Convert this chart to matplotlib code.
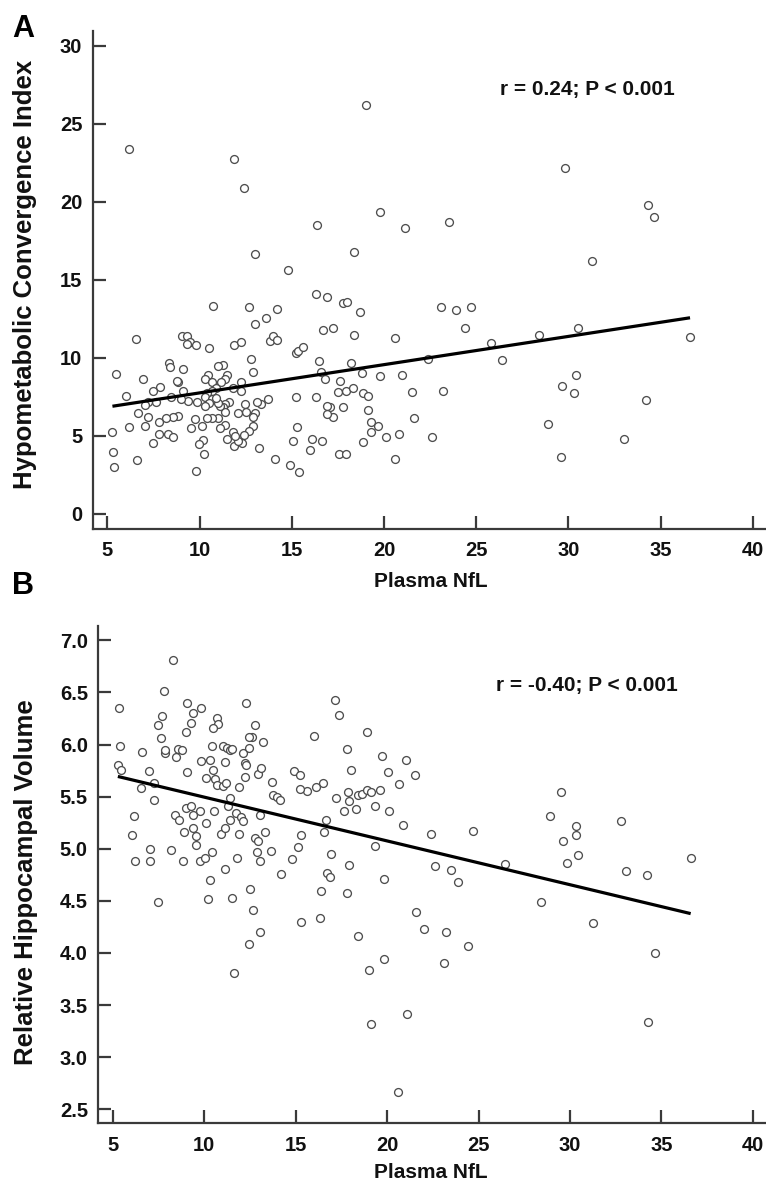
import matplotlib
matplotlib.use("Agg")
import matplotlib.pyplot as plt
import numpy as np

plt.rcParams['font.family'] = ['Liberation Sans', 'DejaVu Sans']
plt.rcParams['font.weight'] = 'bold'

# ---------------- Panel A data ----------------
nfl_a = [6.19, 11.89, 12.40, 16.39, 13.03, 14.80, 16.33, 16.9, 10.72, 12.70, 14.22,
         19.01, 29.82, 19.79, 21.13, 23.51, 18.39, 17.8, 18.0, 18.7, 23.1, 23.9, 24.7,
         34.32, 34.63, 31.3, 30.53, 36.6, 30.42, 29.64, 30.33, 34.21, 33.02, 29.6,
         17.22, 18.38, 20.6, 24.4, 28.41, 25.79, 22.41, 26.4, 18.2, 18.8, 19.8, 21.0,
         17.6, 17.53, 17.93, 18.31, 18.88, 19.15, 21.5, 23.22, 17.08, 17.8, 17.22,
         19.12, 19.3, 19.7, 19.3, 20.1, 20.82, 18.88, 21.63, 22.61, 17.57, 17.93,
         20.62, 28.92,
         13.01, 13.61, 16.71, 6.54, 9.03, 9.31, 9.48, 9.34, 9.81, 10.52, 11.89, 12.23,
         13.82, 14.0, 14.22, 15.22, 15.36, 15.6, 16.5, 16.57, 16.81, 16.9, 16.9, 16.33,
         15.22, 15.3, 15.09, 16.12, 16.63, 15.99, 14.91, 15.41, 14.11, 13.24, 13.73,
         13.32, 13.1, 12.92, 12.81, 12.25, 12.23, 11.8, 12.48, 12.52, 12.1, 12.99,
         12.92, 12.88, 12.68, 12.41, 12.3, 11.89, 12.1, 11.83, 11.5, 11.94, 11.29,
         10.99, 11.5, 11.35, 11.17, 11.62, 11.38, 11.29, 11.4, 11.11, 10.97, 10.99,
         10.66, 10.42, 11.38, 11.11, 10.44, 10.3, 10.69, 10.89, 10.66, 10.42, 10.3,
         10.69, 10.89, 10.52, 10.3, 10.14, 10.17, 9.99, 10.21, 9.77, 9.54, 9.81, 9.85,
         9.36, 8.98, 9.09, 8.85, 8.76, 9.09, 8.35, 8.4, 8.45, 8.8, 8.58, 8.18, 7.82,
         8.28, 8.58, 7.8, 7.49, 7.86, 7.49, 7.64, 7.22, 7.04, 7.22, 7.04, 6.63, 6.18,
         6.01, 6.92, 5.46, 5.27, 5.29, 5.36, 6.59]
hci_a = [23.38, 22.74, 20.9, 18.5, 16.63, 15.64, 14.08, 13.87, 13.33, 13.27, 13.1,
         26.22, 22.14, 19.32, 18.29, 18.72, 16.8, 13.49, 13.6, 12.9, 13.23, 13.06, 13.23,
         19.79, 19.02, 16.22, 11.92, 11.35, 8.87, 8.19, 7.76, 7.29, 4.79, 3.65,
         11.92, 11.45, 11.24, 11.92, 11.45, 10.92, 9.9, 9.87, 9.64, 9.04, 8.83, 8.87,
         8.5, 7.78, 7.88, 8.04, 7.72, 7.56, 7.8, 7.87, 6.86, 6.82, 6.22,
         6.65, 5.9, 5.62, 5.22, 4.9, 5.09, 4.6, 6.13, 4.94, 3.83, 3.83,
         3.49, 5.75,
         12.14, 12.53, 11.78, 11.22, 11.41, 11.41, 11.03, 10.86, 10.81, 10.62, 10.81, 11.0,
         11.09, 11.41, 11.13, 10.32, 10.45, 10.67, 9.79, 9.1, 8.63, 6.9, 6.37, 7.5,
         7.5, 5.58, 4.68, 4.77, 4.64, 4.08, 3.12, 2.69, 3.49, 4.21, 7.35,
         7.01, 7.18, 9.06, 9.9, 8.46, 7.88, 8.08, 7.03, 6.5, 6.44, 6.44,
         6.22, 5.62, 5.3, 5.04, 4.51, 4.36, 4.68, 5.26, 4.77, 4.98, 9.53,
         9.49, 8.89, 8.63, 8.46, 7.18, 7.01, 6.82, 6.52, 6.9, 7.08, 6.12,
         6.15, 6.15, 5.67, 5.47, 8.89, 8.63, 8.46, 8.04, 7.88, 7.76, 7.5,
         7.33, 7.39, 7.08, 6.9, 5.62, 4.72, 4.47, 3.83, 6.07, 5.47, 2.76, 7.18,
         7.24, 7.35, 7.88, 8.46, 8.5, 9.27, 9.68, 9.42, 7.5, 6.26, 6.18, 6.12, 5.9,
         5.11, 4.94, 5.11, 4.55, 8.14, 7.88, 7.18, 7.18, 6.97, 6.18, 5.62, 6.44, 5.54,
         7.54, 8.62, 8.96, 5.22, 3.94, 3.01, 3.44]
fit_a = (0.181, 5.935)   # slope, intercept of the regression line
annot_a = "r = 0.24; P < 0.001"

# ---------------- Panel B data ----------------
nfl_b = [8.27, 7.79, 5.31, 9.07, 9.82, 12.3, 9.38, 7.68, 7.46, 9.29, 9.02, 7.65, 10.71,
         10.75, 10.47, 12.79, 12.61, 12.44, 13.21, 5.37, 7.87, 7.83, 8.56, 8.8, 8.47,
         6.59, 10.42, 11.02, 11.26, 11.39, 11.54, 12.12, 12.43, 12.25, 12.30, 11.11,
         9.84, 10.33, 10.47, 9.07, 6.95, 5.27, 5.46, 10.11, 10.57, 10.71, 11.02, 11.21,
         12.21, 11.9, 12.94, 13.08, 14.91, 15.22, 15.99, 16.49, 16.13, 15.62, 15.22,
         13.72, 13.76, 14.0, 14.12, 7.24, 6.55, 7.24, 11.43, 11.29, 17.17, 17.37, 17.19,
         6.15, 8.38, 9.02, 9.29, 9.75, 10.51, 9.38, 11.75, 12.03, 13.03, 16.63,
         6.02, 8.61, 10.11, 8.87, 9.38, 9.53, 9.56, 10.9, 11.11, 11.43, 12.12, 11.9,
         12.79, 12.94, 13.34, 12.9, 13.03, 13.62, 7.05, 6.23, 7.05, 8.2, 8.83, 9.78,
         10.04, 10.4, 11.11, 11.81, 7.46, 10.33, 10.2, 11.54, 12.52, 12.68, 13.03, 12.43,
         11.61, 14.2, 14.82, 15.11, 15.29, 16.53, 16.92, 16.71, 16.9, 16.38, 16.31, 15.29,
         18.92, 17.83, 19.72, 21.02, 18.01, 20.02, 21.53, 20.62, 17.86, 17.92, 18.41,
         18.65, 18.9, 19.14, 19.6, 17.63, 18.28, 19.32, 20.11, 29.5, 28.9,
         20.84, 22.4, 24.7, 30.33, 30.31, 29.63, 29.82, 30.45, 19.32, 17.9, 17.83, 19.8,
         22.61, 23.5, 23.88, 26.42, 28.39, 21.57, 22.0, 23.21, 24.4, 23.1, 18.41, 19.8,
         19.01, 21.11, 19.1, 20.6,
         32.79, 36.6, 33.05, 34.23, 31.27, 34.65, 34.28]
hv_b = [6.81, 6.51, 6.35, 6.4, 6.35, 6.4, 6.30, 6.27, 6.19, 6.21, 6.12, 6.06, 6.25,
        6.2, 6.16, 6.19, 6.07, 6.07, 6.02, 5.99, 5.92, 5.95, 5.96, 5.95, 5.88,
        5.93, 5.99, 5.99, 5.97, 5.95, 5.96, 5.92, 5.97, 5.82, 5.80, 5.83,
        5.84, 5.85, 5.76, 5.74, 5.75, 5.80, 5.76, 5.68, 5.67, 5.61, 5.60, 5.63,
        5.69, 5.59, 5.72, 5.77, 5.75, 5.71, 6.08, 5.63, 5.59, 5.55, 5.57,
        5.64, 5.52, 5.5, 5.47, 5.63, 5.58, 5.47, 5.49, 5.41, 6.43, 6.28, 5.49,
        5.31, 5.32, 5.39, 5.41, 5.36, 5.36, 5.32, 5.34, 5.30, 5.32, 5.28,
        5.13, 5.28, 5.25, 5.16, 5.20, 5.12, 5.04, 5.14, 5.20, 5.28, 5.27, 5.14,
        5.10, 5.07, 5.16, 4.97, 4.88, 4.98, 5.0, 4.88, 4.88, 4.99, 4.88, 4.88,
        4.91, 4.97, 4.81, 4.91, 4.49, 4.70, 4.52, 4.53, 4.61, 4.41, 4.20, 4.09,
        3.81, 4.76, 4.9, 5.02, 5.13, 5.16, 4.95, 4.77, 4.73, 4.59, 4.34, 4.30,
        6.12, 5.96, 5.89, 5.85, 5.76, 5.74, 5.71, 5.62, 5.54, 5.46, 5.52,
        5.53, 5.56, 5.54, 5.56, 5.36, 5.38, 5.41, 5.36, 5.54, 5.31,
        5.23, 5.14, 5.17, 5.22, 5.13, 5.07, 4.86, 4.94, 5.03, 4.84, 4.58, 4.71,
        4.83, 4.80, 4.68, 4.85, 4.49, 4.39, 4.23, 4.20, 4.07, 3.90, 4.16, 3.94,
        3.84, 3.41, 3.32, 2.67,
        5.27, 4.91, 4.79, 4.75, 4.29, 4.0, 3.34]
fit_b = (-0.042, 5.915)
annot_b = "r = -0.40; P < 0.001"

x_ticks = [5, 10, 15, 20, 25, 30, 35, 40]
y_ticks_a = [0, 5, 10, 15, 20, 25, 30]
y_ticks_b = [2.5, 3.0, 3.5, 4.0, 4.5, 5.0, 5.5, 6.0, 6.5, 7.0]

W, H = 766, 1184
fig = plt.figure(figsize=(W / 100, H / 100), dpi=100)

def px_axes(l, t, r, b):
    return fig.add_axes([l / W, 1 - b / H, (r - l) / W, (b - t) / H])

axA = px_axes(92.7, 30.7, 766, 528.7)
axB = px_axes(98.3, 625.7, 766, 1123.3)

spine_col = '#3a3a3a'
FS = 14.5

def style(ax, yticks, ylim, fmt):
    for s in ['top', 'right']:
        ax.spines[s].set_visible(False)
    for s in ['left', 'bottom']:
        ax.spines[s].set_color(spine_col)
        ax.spines[s].set_linewidth(1.6)
    ax.set_xlim(4.2, 40.72)
    ax.set_ylim(*ylim)
    ax.set_xticks(x_ticks)
    ax.set_yticks(yticks)
    ax.set_yticklabels([fmt.format(v) for v in yticks])
    ax.tick_params(axis='both', direction='in', length=9.5, width=1.6,
                   color=spine_col, labelsize=FS, labelcolor='#111111')
    ax.tick_params(axis='x', pad=9)
    ax.tick_params(axis='y', pad=7.5)
    for lab in ax.get_xticklabels() + ax.get_yticklabels():
        lab.set_fontweight('bold')

def panel(ax, xs, ys, fit, annot, annot_xy, ylabel):
    ax.scatter(xs, ys, s=32, facecolors='white', edgecolors='#4d4d4d',
               linewidths=0.95, zorder=3)
    xl = np.array([min(xs), max(xs)])
    ax.plot(xl, fit[0] * xl + fit[1], color='black', lw=2.3, zorder=4,
            solid_capstyle='butt')
    ax.text(annot_xy[0], annot_xy[1], annot, fontsize=15, fontweight='bold',
            va='center', ha='left', color='#111111')
    ax.set_xlabel('Plasma NfL', fontsize=15, fontweight='bold', color='#111111')
    ax.set_ylabel(ylabel, fontsize=18.5, fontweight='bold', color='#111111')

style(axA, y_ticks_a, (-0.96, 30.96), '{:g}')
style(axB, y_ticks_b, (2.366, 7.14), '{:.1f}')

panel(axA, nfl_a, hci_a, fit_a, annot_a, (26.3, 27.2),
      'Hypometabolic Convergence Index')
panel(axB, nfl_b, hv_b, fit_b, annot_b, (25.93, 6.57),
      'Relative Hippocampal Volume')

axA.xaxis.set_label_coords(0.502, -0.086)
axB.xaxis.set_label_coords(0.498, -0.079)
axA.yaxis.set_label_coords(-0.083, 0.511)
axB.yaxis.set_label_coords(-0.090, 0.485)

fig.text(23 / W, 1 - 29 / H, 'A', fontsize=22, fontweight='bold', ha='center', va='center')
fig.text(23 / W, 1 - 586 / H, 'B', fontsize=22, fontweight='bold', ha='center', va='center')

fig.savefig('out.png', dpi=100, facecolor='white')
